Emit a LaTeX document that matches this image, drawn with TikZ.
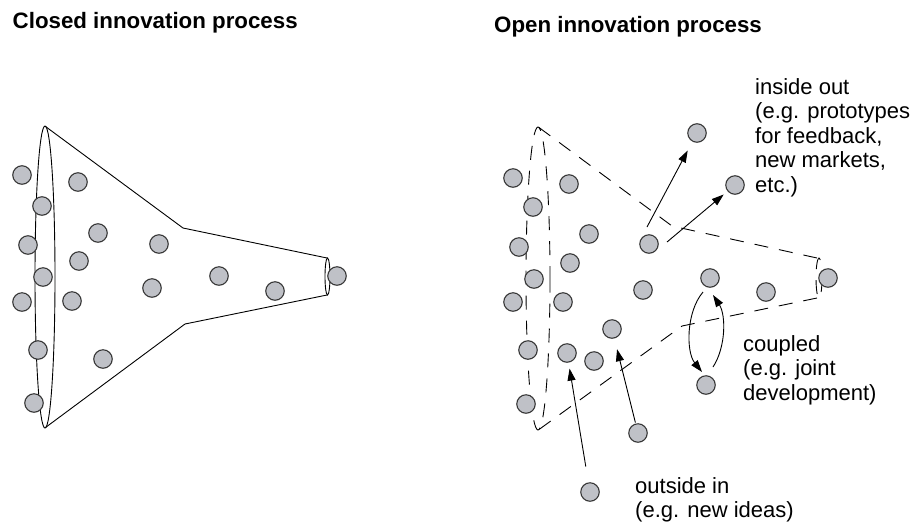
\documentclass[tikz,border=0pt]{standalone}
\usepackage{fontspec}
\setmainfont{Liberation Sans}
\usetikzlibrary{arrows.meta}
\definecolor{ballgray}{RGB}{191,193,199}
\definecolor{balledge}{RGB}{55,55,55}
\begin{document}
\begin{tikzpicture}[x=1pt,y=-1pt,
  ball/.style={circle,draw=balledge,line width=1.1pt,fill=ballgray,minimum size=18.5pt,inner sep=0pt},
  funnel/.style={line width=0.9pt},
  dfunnel/.style={line width=0.9pt,dash pattern=on 14pt off 11pt},
  arr/.style={line width=0.9pt,-{Triangle[length=12pt,width=8pt]}},
  title/.style={font=\fontsize{22.3}{24}\selectfont\bfseries,anchor=base west,inner sep=0pt},
  lbl/.style={font=\fontsize{22}{24.5}\selectfont,align=left,anchor=base west,inner sep=0pt}]
\useasboundingbox (0,0) rectangle (912,523);

% titles
\node[title] (t1) at (12.5,28) {Closed innovation process};
\node[title] (t2) at (494,32) {Open innovation process};

% closed funnel
\draw[funnel] (45,277) ellipse [x radius=10, y radius=151];
\draw[funnel] (45.5,126.5) -- (183,228) -- (327,258);
\draw[funnel] (327,295) -- (185,324) -- (45.5,427.5);
\draw[funnel] (327.5,276.5) ellipse [x radius=2.5, y radius=18.5];

% closed balls
\foreach \p [count=\i] in {(22,175),(42,206),(28,245),(43,277),(22,302),(38,350),(34,403),(78,182),(98,233),(79,261),(72,301),(103,359),(159,244),(152,288),(219,276),(275,291),(337,276)}
  \node[ball] (L\i) at \p {};

% open funnel
\draw[dfunnel] (538,278.5) ellipse [x radius=12, y radius=151.5];
\draw[dfunnel] (539,127.5) -- (672,226) -- (817,258);
\draw[dfunnel] (817,298) -- (682,326) -- (539,429.5);
\draw[dfunnel] (819,278) ellipse [x radius=3, y radius=20];

% open balls
\node[ball] (io1) at (697,133) {};
\node[ball] (io2) at (735,185) {};
\node[ball] (src) at (649,244) {};
\node[ball] (cT) at (710,278) {};
\node[ball] (cB) at (706,385) {};
\node[ball] (tA) at (567,353) {};
\node[ball] (tB) at (612,329) {};
\node[ball] (oA) at (590,492) {};
\node[ball] (oB) at (638,433) {};
\foreach \p [count=\i] in {(513,178),(569,184),(533,207),(589,234),(519,247),(570,263),(534,279),(643,290),(828,278),(766,292),(513,302),(563,302),(528,350),(594,361),(526,404)}
  \node[ball] (R\i) at \p {};

% inside out
\coordinate (s1) at (647,227);
\coordinate (s2) at (667,242);
\draw[arr,shorten >=10pt] (s1) -- (io1);
\draw[arr,shorten >=5pt] (s2) -- (io2);

% coupled
\coordinate (cl1) at (703,292);
\coordinate (cl2) at (702,372);
\coordinate (cr1) at (713,367);
\coordinate (cr2) at (713,295);
\draw[arr] (cl1) .. controls (686,312) and (686,352) .. (cl2);
\draw[arr] (cr1) .. controls (726,347) and (726,315) .. (cr2);

% outside in
\draw[arr,shorten <=16pt,shorten >=6pt] (oA) -- (tA);
\draw[arr,shorten <=1pt,shorten >=11pt] (oB) -- (tB);

% labels (base = baseline of last line)
\node[lbl] (l1) at (755,192) {inside out\\(e.g. prototypes\\for feedback,\\new markets,\\etc.)};
\node[lbl] (l2) at (743,400) {coupled\\(e.g. joint\\development)};
\node[lbl] (l3) at (635,517.5) {outside in\\(e.g. new ideas)};
\end{tikzpicture}
\end{document}
